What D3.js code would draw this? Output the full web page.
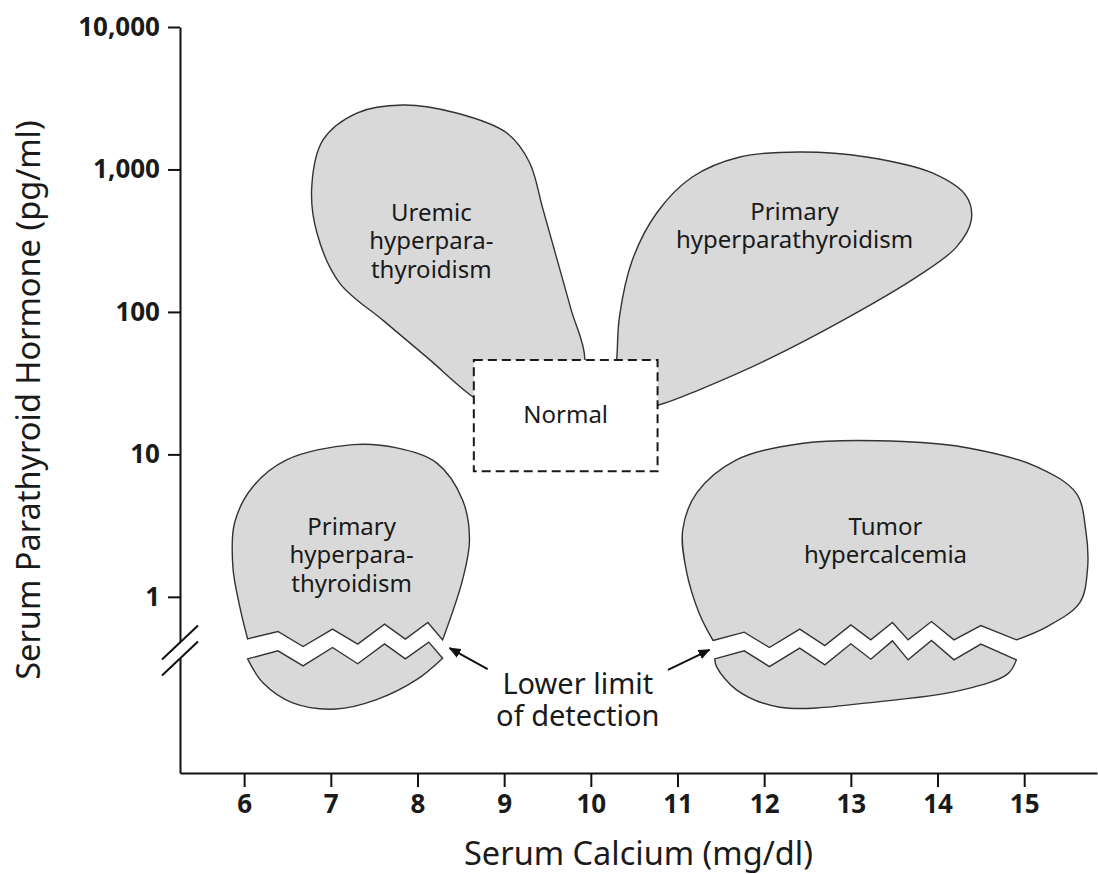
<!DOCTYPE html>
<html>
<head>
<meta charset="utf-8">
<script src="https://cdn.jsdelivr.net/npm/d3@7"></script>
<style>
  body { margin: 0; background: #fff; }
  svg text { font-family: "Noto Sans", "Open Sans", sans-serif; fill: #1a1a1a; }
</style>
</head>
<body>
<div id="chart"></div>
<script>
// axis ticks
var xTicks = [6, 7, 8, 9, 10, 11, 12, 13, 14, 15]
var yTicks = [1, 10, 100, 1000, 10000]
var xDomain = [5.26, 15.84]
var yDomain = [0.058, 10000]

// region outlines, [serum calcium mg/dl, PTH pg/ml]
var uremicHyper = [
  [8.64, 25.3], [9.18, 16.1], [9.81, 18.9], [9.93, 47.5], [9.77, 105], [9.45, 520], [9.29, 1129],
  [9.03, 1804], [8.45, 2490], [7.83, 2837], [7.30, 2490], [6.91, 1611], [6.78, 754],
  [6.84, 358], [7.10, 160], [7.61, 86.5], [8.13, 46.8]
]
var primaryHyperHigh = [
  [10.30, 47.5], [10.33, 92.2], [10.48, 232], [10.76, 495], [11.17, 885], [11.72, 1224],
  [12.41, 1327], [13.18, 1224], [13.94, 945], [14.33, 652], [14.39, 442], [14.22, 286],
  [13.76, 176], [12.98, 92.2], [12.03, 46.0], [11.25, 28.4], [10.79, 22.3], [10.45, 20.5],
  [10.27, 30.7]
]
var normalCalcium = [8.65, 10.77]
var normalPTH = [7.6, 46]

// primary hyperparathyroidism, undetectable PTH (split at the detection limit)
var primaryLowZigTop = [
  [6.04, 0.507], [6.39, 0.571], [6.68, 0.448], [7.02, 0.593], [7.31, 0.466],
  [7.62, 0.643], [7.86, 0.505], [8.12, 0.660], [8.29, 0.499]
]
var primaryLowUpper = [
  [8.52, 1.316], [8.60, 2.51], [8.52, 4.79], [8.22, 8.72], [7.76, 11.1], [7.25, 11.7],
  [6.49, 9.15], [6.10, 5.92], [5.89, 3.31], [5.87, 1.62], [5.95, 0.851]
]
var primaryLowZigBottom = [
  [6.04, 0.367], [6.39, 0.418], [6.68, 0.328], [7.02, 0.441], [7.31, 0.339],
  [7.62, 0.468], [7.86, 0.367], [8.13, 0.481], [8.29, 0.371]
]
var primaryLowLower = [
  [7.99, 0.262], [7.52, 0.189], [7.06, 0.163], [6.56, 0.180], [6.22, 0.248]
]

// tumor hypercalcemia
var tumorZigTop = [
  [11.41, 0.494], [11.77, 0.565], [12.06, 0.441], [12.41, 0.593], [12.70, 0.455],
  [13.00, 0.636], [13.23, 0.499], [13.48, 0.660], [13.66, 0.499], [13.93, 0.671],
  [14.19, 0.499], [14.50, 0.629], [14.91, 0.499]
]
var tumorUpper = [
  [15.26, 0.616], [15.64, 0.908], [15.73, 1.547], [15.71, 2.95], [15.60, 5.34],
  [15.14, 8.21], [14.37, 11.05], [13.60, 12.3], [12.45, 11.98], [11.68, 9.15],
  [11.22, 5.34], [11.06, 2.95], [11.10, 1.547], [11.25, 0.768]
]
var tumorZigBottom = [
  [11.43, 0.367], [11.77, 0.418], [12.06, 0.324], [12.41, 0.437], [12.70, 0.333],
  [13.00, 0.468], [13.23, 0.365], [13.48, 0.491], [13.66, 0.361], [13.93, 0.494],
  [14.19, 0.361], [14.50, 0.466], [14.91, 0.361]
]
var tumorLower = [
  [14.81, 0.288], [14.29, 0.2225], [13.33, 0.184], [12.18, 0.168], [11.68, 0.2225], [11.45, 0.324]
]

// detection limit arrows [from, to]
var arrows = [
  [[8.81, 0.311], [8.37, 0.437]],
  [[10.89, 0.307], [11.37, 0.425]]
]

// region labels: anchor (calcium, PTH of first baseline) and lines
var labels = [
  { ca: 8.16, pth: 435, lines: ['Uremic', 'hyperpara-', 'thyroidism'] },
  { ca: 12.35, pth: 442, lines: ['Primary', 'hyperparathyroidism'] },
  { ca: 9.71, pth: 16.6, lines: ['Normal'] },
  { ca: 7.24, pth: 2.72, lines: ['Primary', 'hyperpara-', 'thyroidism'] },
  { ca: 13.40, pth: 2.72, lines: ['Tumor', 'hypercalcemia'] }
]
var limitLabel = { ca: 9.85, pth: 0.2087, lines: ['Lower limit', 'of detection'] }

var width = 1098
var height = 874
var plot = { left: 180, right: 1097, top: 27, bottom: 773 }
var fillGrey = '#d9d9d9'
var edge = '#333'

var svg = d3.select('#chart')
  .append('svg')
    .attr('width', width)
    .attr('height', height)

var x = d3.scaleLinear().domain(xDomain).range([plot.left, plot.right])
var y = d3.scaleLog().domain(yDomain).range([plot.bottom, plot.top])

var smoothClosed = d3.line()
  .x(d => x(d[0])).y(d => y(d[1]))
  .curve(d3.curveCatmullRomClosed.alpha(0.5))
var smoothOpen = d3.line()
  .x(d => x(d[0])).y(d => y(d[1]))
  .curve(d3.curveCatmullRom.alpha(0.5))
var straight = d3.line()
  .x(d => x(d[0])).y(d => y(d[1]))

// zigzag edge followed by a smooth outer edge back to the start
function brokenPiece(zig, outer) {
  var ring = [zig[zig.length - 1]].concat(outer, [zig[0]])
  return straight(zig) + smoothOpen(ring).replace(/^M/, 'L') + 'Z'
}

var shapes = svg.append('g')
  .attr('fill', fillGrey)
  .attr('stroke', edge)
  .attr('stroke-width', 1.4)
  .attr('stroke-linejoin', 'miter')

shapes.append('path').attr('d', smoothClosed(uremicHyper))
shapes.append('path').attr('d', smoothClosed(primaryHyperHigh))
shapes.append('path').attr('d', brokenPiece(primaryLowZigTop, primaryLowUpper))
shapes.append('path').attr('d', brokenPiece(primaryLowZigBottom, primaryLowLower))
shapes.append('path').attr('d', brokenPiece(tumorZigTop, tumorUpper))
shapes.append('path').attr('d', brokenPiece(tumorZigBottom, tumorLower))

// normal range box
svg.append('rect')
  .attr('x', x(normalCalcium[0]))
  .attr('y', y(normalPTH[1]))
  .attr('width', x(normalCalcium[1]) - x(normalCalcium[0]))
  .attr('height', y(normalPTH[0]) - y(normalPTH[1]))
  .attr('fill', '#fff')
  .attr('stroke', '#1a1a1a')
  .attr('stroke-width', 2)
  .attr('stroke-dasharray', '9,5')

// labels
function drawLabel(l, size, lh) {
  var t = svg.append('text')
    .attr('text-anchor', 'middle')
    .style('font-size', size + 'px')
  l.lines.forEach((s, i) => {
    t.append('tspan')
      .attr('x', x(l.ca))
      .attr('y', y(l.pth) + i * lh)
      .text(s)
  })
}
labels.forEach(l => drawLabel(l, 24, 28.5))
drawLabel(limitLabel, 29, 32)

// arrows
svg.append('defs').append('marker')
  .attr('id', 'head')
  .attr('viewBox', '0 0 12 10')
  .attr('refX', 11).attr('refY', 5)
  .attr('markerWidth', 12).attr('markerHeight', 10)
  .attr('markerUnits', 'userSpaceOnUse')
  .attr('orient', 'auto')
  .append('path')
    .attr('d', 'M0,0L12,5L0,10Z')
    .attr('fill', '#111')

svg.selectAll('.arrow')
  .data(arrows)
  .enter()
  .append('path')
    .attr('class', 'arrow')
    .attr('d', d => straight(d))
    .attr('stroke', '#111')
    .attr('stroke-width', 2)
    .attr('marker-end', 'url(#head)')

// axes
var xAxis = svg.append('g')
  .attr('transform', 'translate(0,' + plot.bottom + ')')
  .call(d3.axisBottom(x).tickValues(xTicks).tickSize(14).tickSizeOuter(0).tickPadding(8))
var yAxis = svg.append('g')
  .attr('transform', 'translate(' + plot.left + ',0)')
  .call(d3.axisLeft(y).tickValues(yTicks).tickFormat(d3.format(',')).tickSize(12).tickSizeOuter(0).tickPadding(8))

;[xAxis, yAxis].forEach(a => {
  a.select('.domain').attr('stroke', '#111').attr('stroke-width', 2)
  a.selectAll('.tick line').attr('stroke', '#111').attr('stroke-width', 2)
  a.selectAll('.tick text')
    .style('font-family', '"Noto Sans", sans-serif')
    .style('font-size', '26px')
    .style('font-weight', 'bold')
    .attr('fill', '#1a1a1a')
})

// axis break marks on the y axis
var breakY = y(0.42)
svg.append('path')
  .attr('d', 'M' + (plot.left - 17) + ',' + (breakY + 10) + 'L' + (plot.left + 17) + ',' + (breakY - 24) +
             'L' + (plot.left + 17) + ',' + (breakY - 9) + 'L' + (plot.left - 17) + ',' + (breakY + 25) + 'Z')
  .attr('fill', '#fff')
svg.selectAll('.brk')
  .data([-8, 8])
  .enter()
  .append('line')
    .attr('x1', plot.left - 18).attr('y1', d => breakY + d + 17)
    .attr('x2', plot.left + 18).attr('y2', d => breakY + d - 17)
    .attr('stroke', '#111')
    .attr('stroke-width', 2)

// axis titles
svg.append('text')
  .attr('x', (plot.left + plot.right) / 2)
  .attr('y', 865)
  .attr('text-anchor', 'middle')
  .style('font-size', '32.5px')
  .text('Serum Calcium (mg/dl)')

svg.append('text')
  .attr('transform', 'translate(40,' + (plot.top + plot.bottom) / 2 + ')rotate(-90)')
  .attr('text-anchor', 'middle')
  .style('font-size', '32.5px')
  .text('Serum Parathyroid Hormone (pg/ml)')
</script>
</body>
</html>
